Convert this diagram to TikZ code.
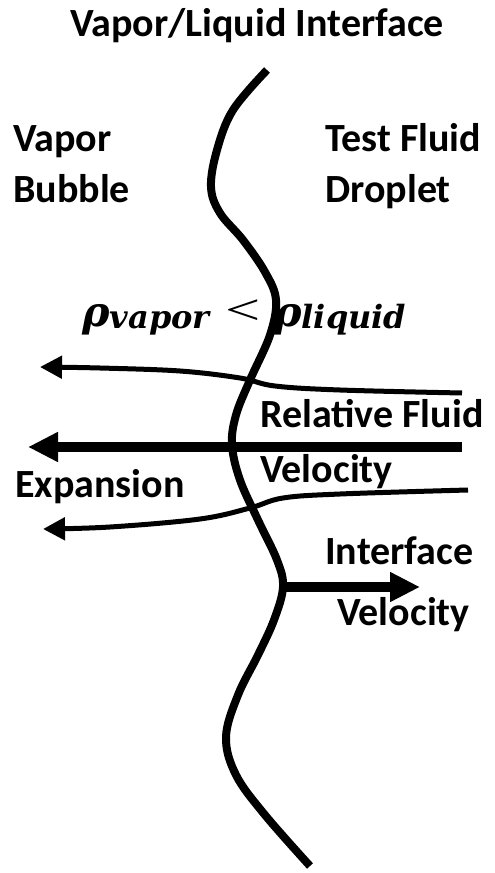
\documentclass[tikz,border=0pt]{standalone}
\usepackage{fontspec}
\setmainfont{Carlito}
\newfontfamily\rhofont{DejaVu Serif}
\newfontfamily\ltfont{Liberation Serif}
\usetikzlibrary{arrows.meta}
\begin{document}
\begin{tikzpicture}[x=0.75pt,y=-0.75pt,
  lbl/.style={anchor=base west,inner sep=0pt,font=\fontsize{30}{34}\selectfont\bfseries},
  iface/.style={line width=6pt,line cap=butt},
  thinflow/.style={line width=3.75pt,-{Triangle[length=16.5pt,width=16.5pt]}},
  thickflow/.style={line width=7.5pt,-{Triangle[length=22.5pt,width=21pt]}}]
\useasboundingbox (0,0) rectangle (494,873);
% title and region labels
\node[anchor=base,inner sep=0pt,font=\fontsize{30}{34}\selectfont\bfseries] (title) at (257,37) {Vapor/Liquid Interface};
\node[lbl] (vap1) at (13,152) {Vapor};
\node[lbl] (vap2) at (13,203) {Bubble};
\node[lbl] (tf1) at (325,152) {Test Fluid};
\node[lbl] (tf2) at (325,203) {Droplet};
% densities
\node[anchor=base west,inner sep=0pt] (rv) at (82,326) {\rhofont\bfseries\itshape\fontsize{31}{34}\selectfont ρ\raisebox{-1.5pt}{\fontsize{24}{27}\selectfont vapor}};
\node[inner sep=0pt] (lt) at (243,312) {\ltfont\fontsize{36}{40}\selectfont\scalebox{1.3}[0.9]{<}};
\node[anchor=base west,inner sep=0pt] (rl) at (274,326) {\rhofont\bfseries\itshape\fontsize{31}{34}\selectfont ρ\raisebox{-1.5pt}{\fontsize{24}{27}\selectfont liquid}};
% interface curve
\draw[iface] plot[smooth,tension=0.6] coordinates {(267,70) (233,110) (217,150) (211,187) (220,213) (243,240) (265,272) (276,300) (270,335) (250,380) (236,415) (232,445) (240,480) (258,520) (277,560) (283,587) (274,620) (258,655) (238,695) (226,737) (236,775) (265,815) (310,866)};
% flow arrows
\coordinate (t1s) at (462,393); \coordinate (t1e) at (40,367);
\coordinate (t2s) at (462,447); \coordinate (t2e) at (28,447);
\coordinate (t3s) at (468,490); \coordinate (t3e) at (43,529);
\draw[thinflow] plot[smooth,tension=0.6] coordinates {(t1s) (340,390) (275,386) (240,378) (180,371) (100,368) (t1e)};
\draw[thickflow] (t2s) -- (t2e);
\draw[thinflow] plot[smooth,tension=0.6] coordinates {(t3s) (340,494) (283,498) (250,508) (200,519) (110,527) (t3e)};
\node[lbl] (rf1) at (260,427) {Relative Fluid};
\node[lbl] (rf2) at (260,482) {Velocity};
\node[lbl] (exp) at (15,497) {Expansion};
% interface velocity
\coordinate (ivs) at (281,587); \coordinate (ive) at (420,587);
\draw[thickflow] (ivs) -- (ive);
\node[lbl] (iv1) at (325,564) {Interface};
\node[lbl] (iv2) at (337,625) {Velocity};
\end{tikzpicture}
\end{document}
